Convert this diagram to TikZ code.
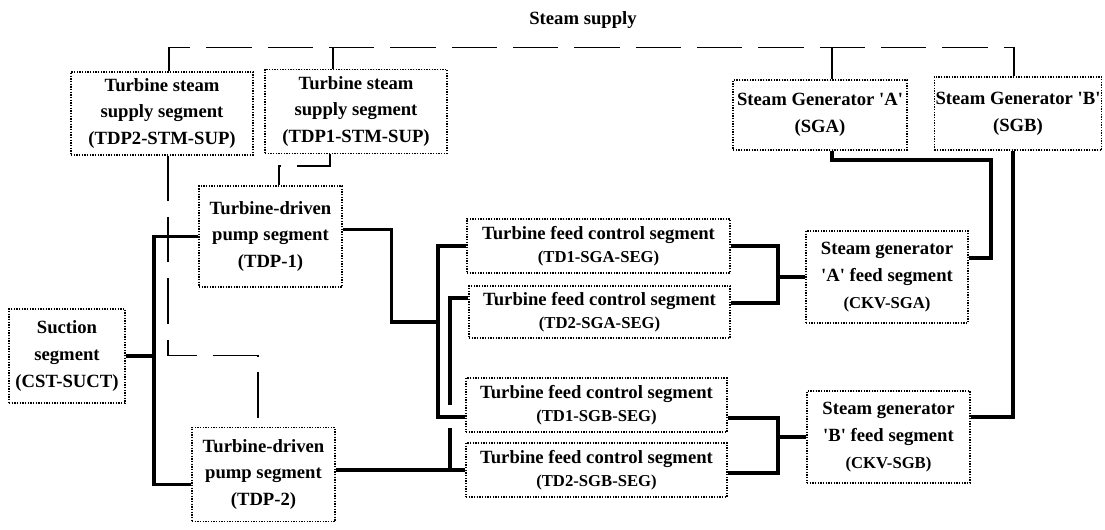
\documentclass[tikz,border=0pt]{standalone}
\usepackage{fontspec}
\setmainfont{Liberation Serif}
\usetikzlibrary{calc}

\tikzset{every picture/.style={line width=0.75pt}}
\tikzset{
  segbox/.style={draw, line width=0.8pt, dash pattern=on 1pt off 1pt, align=center, inner sep=1pt, font=\fontsize{14}{20}\selectfont\bfseries},
  ctlbox/.style={segbox, font=\fontsize{14}{17}\selectfont\bfseries},
  flow/.style={line width=2.6pt},
  steam/.style={line width=1.2pt, dash pattern=on 34pt off 12pt},
}
\newcommand{\segid}[1]{{\fontsize{12.5}{15}\selectfont #1}}
\newcommand{\q}{\textquotesingle}

\begin{document}
\begin{tikzpicture}[x=0.75pt,y=0.75pt,yscale=-1,xscale=1]
\path[use as bounding box] (0,0) rectangle (1105,530);

% Text Node
\node[font=\fontsize{14}{17}\selectfont\bfseries] (title) at (583,20) {Steam supply};

%Boxes: steam side
\node[segbox, minimum width=136.5pt, minimum height=62.25pt] (sup2) at (162,113.5) {Turbine steam\\supply segment\\(TDP2-STM-SUP)};
\node[segbox, minimum width=136.5pt, minimum height=63pt] (sup1) at (356,111.5) {Turbine steam\\supply segment\\(TDP1-STM-SUP)};
\node[segbox, minimum width=130.5pt, minimum height=52.5pt] (sga) at (820,115) {Steam Generator \q A\q\\(SGA)};
\node[segbox, minimum width=124.5pt, minimum height=54.75pt] (sgb) at (1018,113.5) {Steam Generator \q B\q\\(SGB)};

%Boxes: pumps
\node[segbox, minimum width=87pt, minimum height=70.5pt] (suct) at (67,356) {Suction\\segment\\(CST-SUCT)};
\node[segbox, minimum width=107.25pt, minimum height=75.75pt] (tdp1) at (270.5,236.5) {Turbine-driven\\pump segment\\(TDP-1)};
\node[segbox, minimum width=107.25pt, minimum height=70.5pt] (tdp2) at (263.5,474.5) {Turbine-driven\\pump segment\\(TDP-2)};

%Boxes: feed control
\node[ctlbox, minimum width=197.25pt, minimum height=40.5pt] (a1) at (598.5,246) {Turbine feed control segment\\\segid{(TD1-SGA-SEG)}};
\node[ctlbox, minimum width=195.75pt, minimum height=39pt] (a2) at (599.5,312) {Turbine feed control segment\\\segid{(TD2-SGA-SEG)}};
\node[ctlbox, minimum width=195.75pt, minimum height=40.5pt] (b1) at (596.5,405) {Turbine feed control segment\\\segid{(TD1-SGB-SEG)}};
\node[ctlbox, minimum width=195.75pt, minimum height=40.5pt] (b2) at (596.5,470) {Turbine feed control segment\\\segid{(TD2-SGB-SEG)}};

%Boxes: generator feed
\node[segbox, minimum width=121.5pt, minimum height=69pt] (ckva) at (887,277) {Steam generator\\\q A\q{} feed segment\\\segid{(CKV-SGA)}};
\node[segbox, minimum width=122.25pt, minimum height=69pt] (ckvb) at (888.5,437) {Steam generator\\\q B\q{} feed segment\\\segid{(CKV-SGB)}};

%Bus points
\coordinate (lbus) at (154,356);
\coordinate (abus) at (438,322);
\coordinate (hopT) at (450,405);
\coordinate (hopB) at (450,428);
\coordinate (ajoin) at (778,277);
\coordinate (bjoin) at (778,437);

%Steam supply header
\draw[steam] ($(sup2.north)+(7,0)$) -- ++(0,-24) -| ($(sgb.north)+(-4,0)$);
\draw[steam] ($(sup1.north)+(-23,0)$) -- ++(0,-22);
\draw[steam] ($(sga.north)+(12,0)$) -- ++(0,-32);
%Steam to turbines
\draw[steam] ($(sup1.south)+(-26,0)$) -- ++(0,12) -| ($(tdp1.north)+(8.5,0)$);
\draw[steam] ($(sup2.south)+(6,0)$) -- ++(0,200) -| ($(tdp2.north)+(-5.5,0)$);

%Suction lines
\draw[flow] (suct.east) -- (lbus);
\draw[flow] (tdp1.west) -| (lbus) |- ($(tdp2.west)+(0,10)$);

%Pump discharge
\draw[flow] ($(tdp1.east)+(0,-7)$) -- ++(49,0) |- (abus);
\draw[flow] (a1.west) -| (abus) |- ($(b1.west)+(0,12)$);
\draw[flow] (tdp2.east |- b2.west) -- (b2.west);
\draw[flow] ($(a2.west)+(0,-14)$) -| (hopT);
\draw[flow] (hopB) -- (hopB |- b2.west);

%To generator feed
\draw[flow] (a1.east) -| (ajoin) |- ($(a2.east)+(0,-9)$);
\draw[flow] (ajoin) -- (ckva.west);
\draw[flow] ($(b1.east)+(0,13)$) -| (bjoin) |- ($(b2.east)+(0,3)$);
\draw[flow] (bjoin) -- (ckvb.west);

%To steam generators
\draw[flow] ($(sga.south)+(12,0)$) |- (991,160) |- ($(ckva.east)+(0,-19)$);
\draw[flow] ($(sgb.south)+(-5,0)$) |- ($(ckvb.east)+(0,-20)$);

\end{tikzpicture}
\end{document}
